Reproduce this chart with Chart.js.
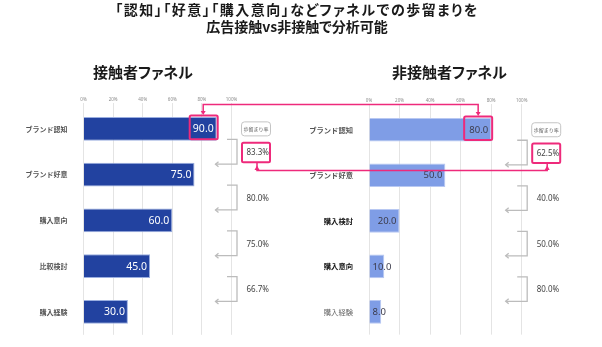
<!DOCTYPE html>
<html><head><meta charset="utf-8">
<script src="https://cdn.jsdelivr.net/npm/chart.js@4.4.1/dist/chart.umd.min.js"></script>
<style>
html,body{margin:0;padding:0;background:#fff;width:602px;height:347px;overflow:hidden}
#wrap{position:relative;width:602px;height:347px}
canvas{position:absolute;left:0;top:0}
.t{position:absolute;font-family:"Noto Sans CJK JP";font-weight:700;color:#1a1a1a;white-space:nowrap;font-feature-settings:"palt"}
</style></head><body>
<div id="wrap">
<canvas id="c1" width="602" height="347" style="width:602px;height:347px"></canvas>
<canvas id="c2" width="602" height="347" style="width:602px;height:347px"></canvas>
<div class="t" style="left:0;width:594px;text-align:center;top:1px;font-size:14px;line-height:17px"><span style="letter-spacing:1.5px">「認知」「好意」「購入意向」などファネルでの歩留まりを</span><br>広告接触vs非接触で分析可能</div>
<div class="t" style="left:93px;top:62px;font-size:15px;line-height:20px">接触者ファネル</div>
<div class="t" style="left:392px;top:62px;font-size:15px;line-height:20px">非接触者ファネル</div>
</div>
<script>
const xTickLabels = ['0%','20%','40%','60%','80%','100%'];
const leftCats = ['ブランド認知','ブランド好意','購入意向','比較検討','購入経験'];
const leftValues = [90,75,60,45,30];
const leftRates = ['83.3%','80.0%','75.0%','66.7%'];
const rightCats = ['ブランド認知','ブランド好意','購入検討','購入意向','購入経験'];
const rightValues = [80,50,20,10,8];
const rightRates = ['62.5%','40.0%','50.0%','80.0%'];
const rateHeader = '歩留まり率';

const PINK = '#ee2a7b';
const CJK = "'Noto Sans CJK JP'";

function rateGeom(chart){
  const xs = chart.scales.x, ys = chart.scales.y;
  const x100 = xs.getPixelForValue(100);
  const vx = x100 + 5.5;
  const items = [];
  for (let i = 0; i < ys.ticks.length - 1; i++) {
    const yTop = ys.getPixelForValue(i) + 10.5;
    const yBot = ys.getPixelForValue(i + 1) - 10.5;
    items.push({yTop, yBot, mid:(yTop + yBot) / 2});
  }
  return {x100, vx, items};
}

function annotPlugin(rates, valueStyle){
  return {
    id:'annot',
    afterDatasetsDraw(chart){
      const ctx = chart.ctx;
      const meta = chart.getDatasetMeta(0);
      ctx.save();
      meta.data.forEach((el, i) => {
        const txt = chart.data.datasets[0].data[i].toFixed(1);
        ctx.font = valueStyle.font;
        ctx.fillStyle = valueStyle.color;
        ctx.textBaseline = 'middle';
        ctx.textAlign = 'left';
        const w = ctx.measureText(txt).width;
        const x = Math.max(el.x - 3 - w, el.base + 3);
        ctx.fillText(txt, x, el.y + 0.5);
      });
      ctx.restore();

      const g = rateGeom(chart);
      ctx.save();
      ctx.strokeStyle = '#bcbcbc';
      ctx.lineWidth = 1.3;
      g.items.forEach((it, i) => {
        ctx.beginPath();
        ctx.moveTo(g.x100 - 4.5, it.yTop);
        ctx.lineTo(g.vx, it.yTop);
        ctx.lineTo(g.vx, it.yBot);
        ctx.lineTo(g.x100 - 16, it.yBot);
        ctx.stroke();
        ctx.beginPath();
        ctx.moveTo(g.x100 - 13, it.yBot - 2.5);
        ctx.lineTo(g.x100 - 16, it.yBot);
        ctx.lineTo(g.x100 - 13, it.yBot + 2.5);
        ctx.stroke();
        ctx.fillStyle = '#444';
        ctx.font = "8px 'Noto Sans'";
        ctx.textBaseline = 'middle';
        ctx.textAlign = 'left';
        ctx.fillText(rates[i], g.vx + 9.5, it.mid + 1);
      });
      const y0 = chart.scales.y.getPixelForValue(0);
      ctx.beginPath();
      ctx.roundRect(g.x100 + 10, y0 - 7, 29, 14, 3);
      ctx.fillStyle = '#fff';
      ctx.fill();
      ctx.strokeStyle = '#c4c4c4';
      ctx.lineWidth = 1;
      ctx.stroke();
      ctx.fillStyle = '#555';
      ctx.font = "5px " + CJK;
      ctx.textAlign = 'center';
      ctx.textBaseline = 'middle';
      ctx.fillText(rateHeader, g.x100 + 24.5, y0 + 0.5);

      ctx.strokeStyle = PINK;
      ctx.lineWidth = 2;
      const r = g.items[0];
      ctx.beginPath();
      ctx.roundRect(g.vx + 5, r.mid - 9, 28, 19.5, 1.5);
      ctx.stroke();
      const el = meta.data[0];
      ctx.beginPath();
      ctx.roundRect(el.x - 27, el.y - el.height / 2 - 1.5, 28, el.height, 1.5);
      ctx.stroke();
      ctx.restore();
    }
  };
}

function makeChart(id, cats, values, rates, opt){
  return new Chart(document.getElementById(id), {
    type:'bar',
    data:{labels:cats, datasets:[{data:values, backgroundColor:opt.fill, borderColor:opt.border, borderWidth:1, barPercentage:0.52, categoryPercentage:1}]},
    options:{
      responsive:false, animation:false, indexAxis:'y', devicePixelRatio:1,
      layout:{padding:{left:opt.pl, right:opt.pr, top:85, bottom:opt.pb}},
      plugins:{legend:{display:false}, tooltip:{enabled:false}},
      scales:{
        x:{position:'top', min:0, max:100,
           afterFit:s => { s.height = opt.hx; },
           ticks:{stepSize:20, autoSkip:false, maxRotation:0, padding:1, color:'#8a8a8a',
                  font:{size:4.5, family:"'Noto Sans'"},
                  callback:(v, i) => xTickLabels[i]},
           grid:{color:'#e4e4e4', lineWidth:1, tickLength:3, drawTicks:true},
           border:{display:false}},
        y:{afterFit:s => { s.width = opt.wy; },
           ticks:{padding:8, autoSkip:false,
                  font:c => opt.yFont(c.index),
                  color:c => opt.yColor(c.index)},
           grid:{display:false}, border:{display:false}}
      }
    },
    plugins:[annotPlugin(rates, opt.value)].concat(opt.extra || [])
  });
}

const chart1 = makeChart('c1', leftCats, leftValues, leftRates, {
  fill:'#2242a0', border:'#9aaee0', pl:0, wy:83.5, pr:370.5, hx:21, pb:11,
  yFont:i => ({size:7, family:CJK, weight:'bold'}),
  yColor:i => '#555',
  value:{font:"10.5px 'Noto Sans'", color:'#ffffff'}
});

const connector = {
  id:'connector',
  afterDraw(chart){
    const ctx = chart.ctx;
    const e1 = chart1.getDatasetMeta(0).data[0];
    const e2 = chart.getDatasetMeta(0).data[0];
    const g1 = rateGeom(chart1), g2 = rateGeom(chart);
    ctx.save();
    ctx.strokeStyle = PINK; ctx.fillStyle = PINK; ctx.lineWidth = 1.5;
    const xa = e1.x - 13.5, xb = e2.x - 13;
    const ta = e1.y - e1.height / 2 - 1.5, tb = e2.y - e2.height / 2 - 1.5;
    const yl = Math.min(ta, tb) - 11;
    ctx.beginPath();
    ctx.moveTo(xa, ta - 3); ctx.lineTo(xa, yl); ctx.lineTo(xb, yl); ctx.lineTo(xb, tb - 3);
    ctx.stroke();
    [[xa, ta], [xb, tb]].forEach(([x, t]) => {
      ctx.beginPath(); ctx.moveTo(x - 2.5, t - 4.5); ctx.lineTo(x + 2.5, t - 4.5); ctx.lineTo(x, t - 0.5); ctx.closePath(); ctx.fill();
    });
    const ba = g1.items[0].mid + 10.5, bb = g2.items[0].mid + 10.5;
    const xc = g1.vx + 20, xd = g2.vx + 20;
    const y2 = Math.max(ba, bb) + 7.5;
    ctx.beginPath();
    ctx.moveTo(xc, ba); ctx.lineTo(xc, y2); ctx.lineTo(xd, y2); ctx.lineTo(xd, bb);
    ctx.stroke();
    [xc, xd].forEach(x => {
      ctx.beginPath(); ctx.moveTo(x - 2.5, y2 - 0.5); ctx.lineTo(x + 2.5, y2 - 0.5); ctx.lineTo(x, y2 - 5); ctx.closePath(); ctx.fill();
    });
    ctx.restore();
  }
};

const chart2 = makeChart('c2', rightCats, rightValues, rightRates, {
  fill:'#7f9de6', border:'#b8c8f2', pl:300, wy:69, pr:80.3, hx:22, pb:5.5,
  yFont:i => ({size:7.3, family:CJK, weight:(i === 2 || i === 3) ? 'bold' : (i === 4 ? 'normal' : 'bold')}),
  yColor:i => (i === 2 || i === 3) ? '#111' : (i === 4 ? '#666' : '#555'),
  value:{font:"9.5px 'Noto Sans'", color:'#3c3c4c'},
  extra:[connector]
});
</script>
</body></html>
